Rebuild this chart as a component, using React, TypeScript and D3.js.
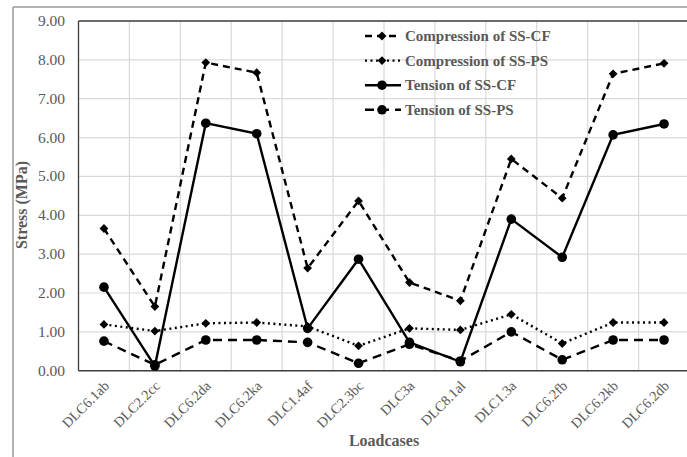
import React from "react";
import * as d3 from "d3";

const categories = ["DLC6.1ab", "DLC2.2cc", "DLC6.2da", "DLC6.2ka", "DLC1.4af", "DLC2.3bc", "DLC3a", "DLC8.1al", "DLC1.3a", "DLC6.2fb", "DLC6.2kb", "DLC6.2db"];
const compressionCF = [3.66, 1.65, 7.93, 7.67, 2.64, 4.37, 2.27, 1.8, 5.45, 4.44, 7.64, 7.91];
const compressionPS = [1.19, 1.02, 1.22, 1.24, 1.14, 0.64, 1.09, 1.05, 1.45, 0.7, 1.24, 1.24];
const tensionCF = [2.15, 0.12, 6.37, 6.1, 1.09, 2.87, 0.73, 0.23, 3.9, 2.92, 6.07, 6.35];
const tensionPS = [0.76, 0.15, 0.79, 0.79, 0.73, 0.19, 0.68, 0.25, 1.0, 0.28, 0.79, 0.79];
const yTicks = [0, 1, 2, 3, 4, 5, 6, 7, 8, 9];

const seriesList = [
  { name: "Compression of SS-CF", values: compressionCF, dash: "7,5", marker: "diamond" },
  { name: "Compression of SS-PS", values: compressionPS, dash: "2,3.5", marker: "diamond" },
  { name: "Tension of SS-CF", values: tensionCF, dash: "", marker: "circle" },
  { name: "Tension of SS-PS", values: tensionPS, dash: "9,6", marker: "circle" },
];

const W = 687, H = 457;
const left = 78.5, right = 689.5, top = 21, bottom = 370.7;
const serif = "'Liberation Serif', 'Times New Roman', serif";
const grey = "#595959";

function Marker({ type, x, y }: { type: string; x: number; y: number }) {
  if (type === "circle") return <circle cx={x} cy={y} r={4.8} fill="#000" />;
  const s = 4.4;
  return <path d={`M${x},${y - s}L${x + s},${y}L${x},${y + s}L${x - s},${y}Z`} fill="#000" />;
}

export default function App() {
  const x = d3.scaleBand<string>().domain(categories).range([left, right]);
  const y = d3.scaleLinear().domain([0, 9]).range([bottom, top]);
  const cx = (c: string) => (x(c) as number) + x.bandwidth() / 2;
  const line = d3.line<number>().x((_, i) => cx(categories[i])).y((v) => y(v));

  return (
    <svg width={W} height={H} style={{ position: "absolute", left: 0, top: 0, background: "#fff" }}>
      {/* outer frame */}
      <line x1={13} y1={7} x2={W} y2={7} stroke="#9a9a9a" strokeWidth={1.5} />
      <line x1={13} y1={7} x2={13} y2={H} stroke="#9a9a9a" strokeWidth={1.5} />

      {/* grid */}
      {yTicks.map((t) => (
        <line key={"h" + t} x1={left} x2={right} y1={y(t)} y2={y(t)} stroke="#d9d9d9" strokeWidth={1.2} />
      ))}
      {categories.map((c, i) => (
        <line key={"v" + i} x1={x(c) as number} x2={x(c) as number} y1={top} y2={bottom} stroke="#d9d9d9" strokeWidth={1.2} />
      ))}

      {/* plot border */}
      <line x1={left} x2={right} y1={top} y2={top} stroke="#404040" strokeWidth={1.3} />
      <line x1={left} x2={left} y1={top} y2={bottom} stroke="#404040" strokeWidth={1.3} />
      <line x1={left} x2={right} y1={bottom} y2={bottom} stroke="#404040" strokeWidth={1.5} />

      {/* y tick labels */}
      {yTicks.map((t) => (
        <text key={"yl" + t} x={65} y={y(t) + 5} textAnchor="end" fontFamily={serif} fontSize={15.5} fill={grey}>
          {t.toFixed(2)}
        </text>
      ))}

      {/* x tick labels */}
      {categories.map((c) => (
        <text key={"xl" + c} transform={`translate(${cx(c) + 6},${bottom + 16}) rotate(-45)`} textAnchor="end" fontFamily={serif} fontSize={14.2} fill={grey}>
          {c}
        </text>
      ))}

      {/* axis titles */}
      <text transform={`translate(27,205) rotate(-90)`} textAnchor="middle" fontFamily={serif} fontSize={16} fontWeight="bold" fill={grey}>
        Stress (MPa)
      </text>
      <text x={384} y={446} textAnchor="middle" fontFamily={serif} fontSize={16} fontWeight="bold" fill={grey}>
        Loadcases
      </text>

      {/* series */}
      {seriesList.map((s) => (
        <g key={s.name}>
          <path d={line(s.values) as string} fill="none" stroke="#000" strokeWidth={2.4} strokeDasharray={s.dash || undefined} />
          {s.values.map((v, i) => (
            <Marker key={i} type={s.marker} x={cx(categories[i])} y={y(v)} />
          ))}
        </g>
      ))}

      {/* legend */}
      {seriesList.map((s, i) => {
        const ly = 36 + i * 24.6;
        return (
          <g key={"lg" + s.name}>
            <line x1={365} x2={401} y1={ly} y2={ly} stroke="#000" strokeWidth={2.4} strokeDasharray={s.dash || undefined} />
            <Marker type={s.marker} x={382} y={ly} />
            <text x={405} y={ly + 5} fontFamily={serif} fontSize={15} fontWeight="bold" fill={grey}>
              {s.name}
            </text>
          </g>
        );
      })}
    </svg>
  );
}
